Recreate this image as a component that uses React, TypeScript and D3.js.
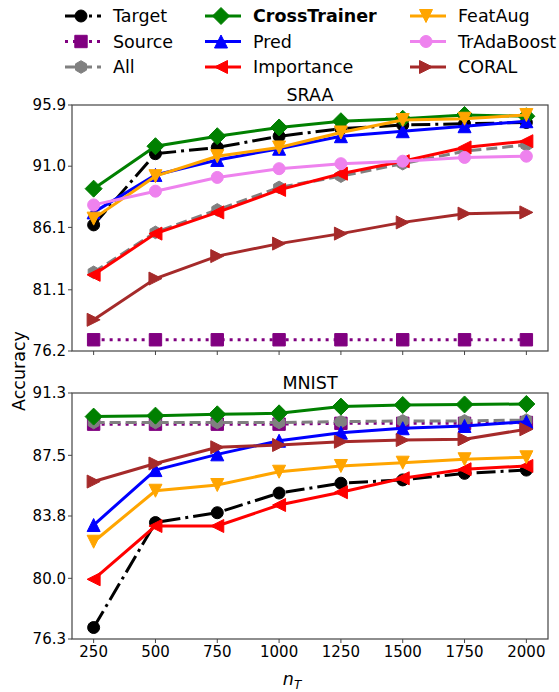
import React from 'react'
import * as d3 from 'd3'

// x values (number of target samples)
const nT = [250, 500, 750, 1000, 1250, 1500, 1750, 2000]

// SRAA accuracies
const sraaTarget = [86.3, 92.0, 92.5, 93.4, 94.0, 94.3, 94.4, 94.5]
const sraaSource = [77.1, 77.1, 77.1, 77.1, 77.1, 77.1, 77.1, 77.1]
const sraaAll = [82.5, 85.7, 87.5, 89.3, 90.2, 91.2, 92.2, 92.7]
const sraaCrossTrainer = [89.2, 92.6, 93.4, 94.1, 94.6, 94.8, 95.1, 95.0]
const sraaPred = [87.3, 90.3, 91.5, 92.4, 93.4, 93.8, 94.2, 94.6]
const sraaImportance = [82.3, 85.6, 87.3, 89.1, 90.4, 91.4, 92.5, 93.0]
const sraaFeatAug = [86.8, 90.2, 91.8, 92.5, 93.7, 94.7, 94.8, 95.1]
const sraaTrAdaBoost = [87.9, 89.0, 90.1, 90.8, 91.2, 91.4, 91.7, 91.8]
const sraaCoral = [78.7, 82.0, 83.8, 84.8, 85.6, 86.5, 87.2, 87.3]
const sraaTicks = [76.2, 81.1, 86.1, 91.0, 95.9]

// MNIST accuracies
const mnistTarget = [77.0, 83.4, 84.0, 85.2, 85.8, 86.0, 86.4, 86.6]
const mnistSource = [89.4, 89.4, 89.4, 89.4, 89.45, 89.45, 89.45, 89.5]
const mnistAll = [89.5, 89.5, 89.5, 89.5, 89.55, 89.6, 89.6, 89.65]
const mnistCrossTrainer = [89.86, 89.92, 90.0, 90.06, 90.47, 90.57, 90.6, 90.63]
const mnistPred = [83.25, 86.6, 87.56, 88.39, 88.88, 89.15, 89.29, 89.55]
const mnistImportance = [79.94, 83.19, 83.19, 84.47, 85.25, 86.1, 86.65, 86.85]
const mnistFeatAug = [82.23, 85.34, 85.69, 86.5, 86.85, 87.05, 87.26, 87.38]
const mnistCoral = [85.9, 87.0, 87.99, 88.13, 88.33, 88.43, 88.48, 89.09]
const mnistTicks = [76.3, 80.0, 83.8, 87.5, 91.3]

const FONT = "'DejaVu Sans', sans-serif"

// series styles (legend order, column-major)
const styles: any = {
  Target: { color: 'black', marker: 'circle', dash: '19,5,3,5' },
  Source: { color: 'purple', marker: 'square', dash: '3,5' },
  All: { color: 'gray', marker: 'hexagon', dash: '11,5' },
  CrossTrainer: { color: 'green', marker: 'diamond', dash: null, bold: true },
  Pred: { color: 'blue', marker: 'tri-up', dash: null },
  Importance: { color: 'red', marker: 'tri-left', dash: null },
  FeatAug: { color: 'orange', marker: 'tri-down', dash: null },
  TrAdaBoost: { color: 'violet', marker: 'circle', dash: null },
  CORAL: { color: 'brown', marker: 'tri-right', dash: null },
}
const order = ['Target', 'Source', 'All', 'CrossTrainer', 'Pred', 'Importance', 'FeatAug', 'TrAdaBoost', 'CORAL']

const panels = [
  {
    title: 'SRAA', top: 105, bottom: 351, domain: [76.2, 95.9], ticks: sraaTicks, showX: false,
    series: {
      Target: sraaTarget, Source: sraaSource, All: sraaAll, CrossTrainer: sraaCrossTrainer,
      Pred: sraaPred, Importance: sraaImportance, FeatAug: sraaFeatAug,
      TrAdaBoost: sraaTrAdaBoost, CORAL: sraaCoral,
    } as any,
  },
  {
    title: 'MNIST', top: 393, bottom: 639, domain: [76.3, 91.3], ticks: mnistTicks, showX: true,
    series: {
      Target: mnistTarget, Source: mnistSource, All: mnistAll, CrossTrainer: mnistCrossTrainer,
      Pred: mnistPred, Importance: mnistImportance, FeatAug: mnistFeatAug, CORAL: mnistCoral,
    } as any,
  },
]

const poly = (pts: number[][]) => 'M' + pts.map(p => p.join(',')).join('L') + 'Z'

function markerPath(kind: string) {
  const t = 6.5
  switch (kind) {
    case 'circle':
      return d3.symbol(d3.symbolCircle, Math.PI * 36)()
    case 'square':
      return poly([[-6.2, -6.2], [6.2, -6.2], [6.2, 6.2], [-6.2, 6.2]])
    case 'diamond':
      return poly([[0, -8.5], [8.5, 0], [0, 8.5], [-8.5, 0]])
    case 'hexagon':
      return poly(d3.range(6).map(i => {
        const a = -Math.PI / 2 + i * Math.PI / 3
        return [6.3 * Math.cos(a), 6.3 * Math.sin(a)]
      }))
    case 'tri-up':
      return poly([[0, -t], [t, t], [-t, t]])
    case 'tri-down':
      return poly([[0, t], [t, -t], [-t, -t]])
    case 'tri-left':
      return poly([[-t, 0], [t, -t], [t, t]])
    case 'tri-right':
      return poly([[t, 0], [-t, -t], [-t, t]])
  }
  return ''
}

const left = 72
const right = 548

export default function App() {
  const x = d3.scaleLinear().domain([162.5, 2087.5]).range([left, right])

  return (
    <svg width={559} height={692} style={{ position: 'absolute', left: 0, top: 0, background: 'white' }}
      fontFamily={FONT}>
      {/* legend */}
      <g>
        {order.map((name, i) => {
          const col = Math.floor(i / 3)
          const row = i % 3
          const hx = [65, 205, 410][col]
          const y = 16 + row * 25.5
          const st = styles[name]
          return (
            <g key={name}>
              <line x1={hx} x2={hx + 36} y1={y} y2={y} stroke={st.color} strokeWidth={3}
                strokeDasharray={st.dash || undefined} />
              <path d={markerPath(st.marker)!} transform={`translate(${hx + 16},${y})`}
                fill={st.color} stroke={st.color} strokeWidth={1} />
              <text x={hx + 48} y={y} dy="0.36em" fontSize={17.5}
                fontWeight={st.bold ? 'bold' : 'normal'}>{name}</text>
            </g>
          )
        })}
      </g>

      {panels.map(p => {
        const y = d3.scaleLinear().domain(p.domain).range([p.bottom, p.top])
        const line = d3.line<number>().x((d, i) => x(nT[i])).y(d => y(d))
        return (
          <g key={p.title}>
            <text x={(left + right) / 2} y={p.top - 4} textAnchor="middle" fontSize={17.5}>{p.title}</text>
            {/* y ticks */}
            {p.ticks.map(t => (
              <g key={t} transform={`translate(${left},${y(t)})`}>
                <line x1={-4} x2={0} stroke="#444" strokeWidth={1} />
                <text x={-6} dy="0.35em" textAnchor="end" fontSize={15}>{t.toFixed(1)}</text>
              </g>
            ))}
            {/* x ticks */}
            {nT.map(v => (
              <g key={v} transform={`translate(${x(v)},${p.bottom})`}>
                <line y1={0} y2={4} stroke="#444" strokeWidth={1} />
                {p.showX && <text y={6} dy="0.8em" textAnchor="middle" fontSize={15}>{v}</text>}
              </g>
            ))}
            {order.filter(n => p.series[n]).map(name => {
              const st = styles[name]
              const vals: number[] = p.series[name]
              return (
                <g key={name}>
                  <path d={line(vals)!} fill="none" stroke={st.color} strokeWidth={3}
                    strokeDasharray={st.dash || undefined} />
                  {vals.map((v, i) => (
                    <path key={i} d={markerPath(st.marker)!} transform={`translate(${x(nT[i])},${y(v)})`}
                      fill={st.color} stroke={st.color} strokeWidth={1} />
                  ))}
                </g>
              )
            })}
            <rect x={left} y={p.top} width={right - left} height={p.bottom - p.top}
              fill="none" stroke="#444" strokeWidth={1.2} />
          </g>
        )
      })}

      <text transform="translate(25,371) rotate(-90)" textAnchor="middle" fontSize={17.5}>Accuracy</text>
      <text x={292} y={685} textAnchor="middle" fontSize={17.5} fontStyle="italic">
        n<tspan fontSize={12} dy={4}>T</tspan>
      </text>
    </svg>
  )
}
